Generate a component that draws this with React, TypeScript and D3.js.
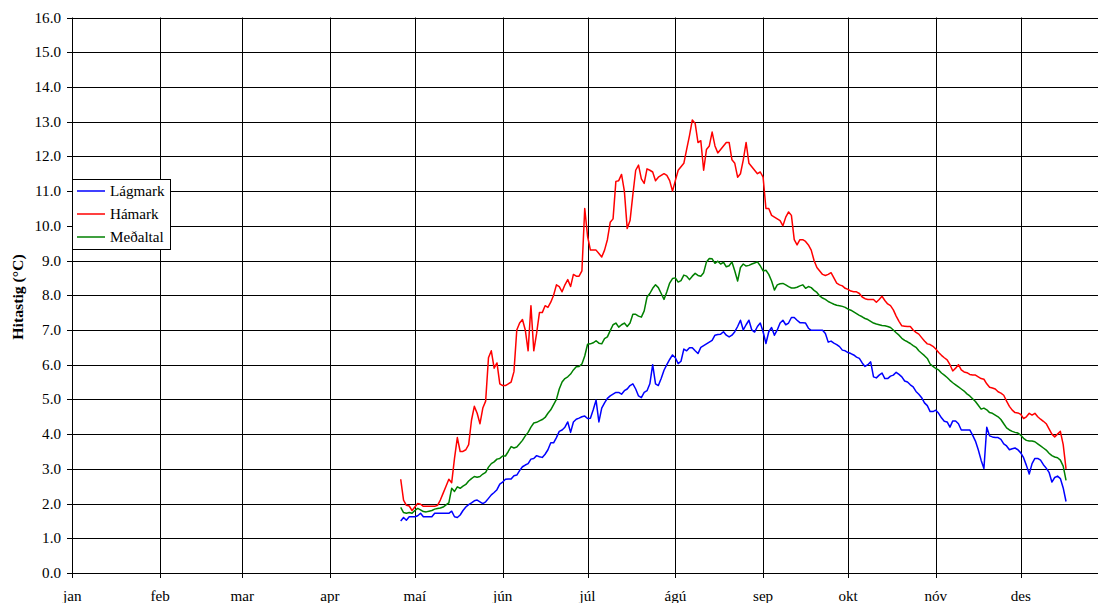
import React from 'react';
import * as d3 from 'd3';

// day-of-year (0 = 1 Jan) of the first value in each series
const firstDay = 116;

const lagmark = [
  1.5, 1.6, 1.52, 1.62, 1.62, 1.62, 1.65, 1.72, 1.62, 1.62,
  1.62, 1.62, 1.72, 1.72, 1.72, 1.72, 1.72, 1.72, 1.78, 1.62,
  1.6, 1.67, 1.8, 1.9, 1.97, 2.02, 2.08, 2.1, 2.05, 2.0,
  2.05, 2.15, 2.25, 2.32, 2.4, 2.56, 2.62, 2.7, 2.71, 2.71,
  2.8, 2.82, 2.95, 3.06, 3.11, 3.15, 3.28, 3.3, 3.38, 3.35,
  3.33, 3.42, 3.55, 3.75, 3.75, 3.9, 4.08, 4.12, 4.2, 4.35,
  4.05, 4.35, 4.43, 4.46, 4.5, 4.52, 4.45, 4.46, 4.7, 4.98,
  4.35, 4.75, 4.9, 5.03, 5.1, 5.15, 5.2, 5.2, 5.15, 5.25,
  5.3, 5.4, 5.45, 5.3, 5.1, 5.05, 5.2, 5.25, 5.45, 6.0,
  5.45, 5.4, 5.6, 5.84, 6.0, 6.15, 6.28, 6.2, 6.03, 6.1,
  6.45, 6.4, 6.49, 6.49, 6.4, 6.32, 6.5, 6.55, 6.6, 6.65,
  6.7, 6.85, 6.87, 6.88, 6.95, 6.85, 6.8, 6.85, 6.95, 7.1,
  7.28, 7.0, 7.15, 7.28, 7.0, 6.94, 7.1, 7.2, 6.95, 6.61,
  6.95, 7.07, 6.85, 7.0, 7.2, 7.28, 7.15, 7.2, 7.36, 7.36,
  7.28, 7.21, 7.21, 7.2, 7.05, 6.99, 6.99, 6.99, 6.99, 6.99,
  6.9, 6.65, 6.68, 6.62, 6.58, 6.52, 6.42, 6.4, 6.35, 6.32,
  6.28, 6.22, 6.18, 6.05, 5.95, 6.0, 6.08, 5.65, 5.62, 5.7,
  5.76, 5.6, 5.6, 5.67, 5.7, 5.78, 5.72, 5.65, 5.53, 5.5,
  5.42, 5.36, 5.23, 5.15, 5.05, 4.9, 4.82, 4.65, 4.65, 4.69,
  4.6, 4.47, 4.37, 4.35, 4.2, 4.38, 4.38, 4.3, 4.12, 4.12,
  4.12, 4.12, 3.97, 3.8, 3.55, 3.25, 3.01, 4.2, 3.95, 3.92,
  3.9, 3.9, 3.85, 3.72, 3.66, 3.55, 3.58, 3.6, 3.55, 3.46,
  3.32, 3.1, 2.85, 3.15, 3.3, 3.3, 3.25, 3.12, 3.02, 2.9,
  2.62, 2.75, 2.79, 2.72, 2.45, 2.06,
];

const hamark = [
  2.7, 2.1, 1.95, 1.93, 1.8, 1.9, 2.0, 1.98, 1.92, 1.92,
  1.92, 1.92, 1.92, 1.95, 2.1, 2.3, 2.5, 2.7, 2.6, 3.3,
  3.9, 3.5, 3.5, 3.55, 3.7, 4.4, 4.8, 4.6, 4.3, 4.75,
  4.95, 6.2, 6.4, 5.9, 6.05, 5.45, 5.4, 5.4, 5.45, 5.5,
  5.8, 7.0, 7.2, 7.3, 7.0, 6.4, 7.7, 6.4, 6.9, 7.5,
  7.5, 7.7, 7.65, 7.8, 8.0, 8.3, 8.25, 8.1, 8.3, 8.45,
  8.25, 8.6, 8.55, 8.55, 8.7, 10.5, 9.7, 9.3, 9.3, 9.3,
  9.2, 9.1, 9.3, 9.6, 10.1, 10.2, 11.28, 11.3, 11.48, 11.0,
  9.92, 10.15, 10.9, 11.6, 11.75, 11.35, 11.22, 11.64, 11.6, 11.55,
  11.3, 11.4, 11.45, 11.5, 11.45, 11.3, 11.0, 11.3, 11.6, 11.7,
  11.8, 12.2, 12.6, 13.05, 12.95, 12.4, 12.45, 11.6, 12.2, 12.3,
  12.7, 12.3, 12.1, 12.2, 12.3, 12.4, 12.4, 11.9, 11.8, 11.4,
  11.5, 11.9, 12.4, 11.8, 11.7, 11.6, 11.5, 11.55, 11.4, 10.5,
  10.5, 10.3, 10.25, 10.2, 10.15, 10.0, 10.25, 10.4, 10.3, 9.6,
  9.45, 9.6, 9.6, 9.55, 9.45, 9.3, 9.0, 8.8, 8.7, 8.6,
  8.57, 8.6, 8.65, 8.5, 8.35, 8.3, 8.27, 8.2, 8.17, 8.12,
  8.1, 8.1, 8.05, 7.95, 7.9, 7.88, 7.88, 7.88, 7.8, 7.88,
  7.97, 7.85, 7.75, 7.7, 7.58, 7.4, 7.25, 7.12, 7.11, 7.1,
  7.1, 7.0, 6.93, 6.88, 6.78, 6.68, 6.6, 6.58, 6.53, 6.45,
  6.35, 6.27, 6.2, 6.14, 6.0, 5.82, 5.9, 6.0, 5.85, 5.79,
  5.77, 5.72, 5.7, 5.7, 5.65, 5.6, 5.58, 5.45, 5.35, 5.33,
  5.3, 5.22, 5.18, 5.12, 4.95, 4.8, 4.69, 4.62, 4.61, 4.57,
  4.45, 4.5, 4.6, 4.55, 4.6, 4.5, 4.43, 4.37, 4.3, 4.15,
  4.0, 3.92, 4.0, 4.08, 3.7, 3.0,
];

const medaltal = [
  1.89, 1.74, 1.72, 1.74, 1.72, 1.8, 1.86, 1.82, 1.77, 1.76,
  1.78, 1.8, 1.84, 1.86, 1.87, 1.9, 1.96, 2.02, 2.44, 2.35,
  2.48, 2.44, 2.5, 2.55, 2.65, 2.72, 2.78, 2.76, 2.78, 2.85,
  2.9, 3.05, 3.15, 3.2, 3.28, 3.3, 3.37, 3.37, 3.5, 3.64,
  3.6, 3.63, 3.72, 3.82, 3.95, 4.05, 4.2, 4.32, 4.34, 4.38,
  4.42, 4.48, 4.6, 4.7, 4.85, 5.0, 5.3, 5.5, 5.6, 5.65,
  5.73, 5.85, 5.94, 5.95, 6.02, 6.25, 6.59, 6.6, 6.63, 6.69,
  6.62, 6.6, 6.75, 6.8, 6.98, 7.15, 7.2, 7.08, 7.15, 7.2,
  7.1, 7.2, 7.45, 7.45, 7.4, 7.37, 7.55, 7.95, 8.05, 8.2,
  8.3, 8.22, 8.05, 7.88, 8.1, 8.35, 8.48, 8.5, 8.38, 8.42,
  8.58, 8.55, 8.45, 8.55, 8.63, 8.57, 8.55, 8.65, 8.96, 9.06,
  9.05, 8.92, 8.98, 8.9, 8.95, 8.82, 8.85, 8.96, 8.7, 8.41,
  8.8, 8.9, 8.84, 8.86, 8.9, 8.93, 8.96, 8.85, 8.7, 8.72,
  8.6, 8.41, 8.15, 8.3, 8.33, 8.34, 8.3, 8.25, 8.21, 8.21,
  8.23, 8.27, 8.3, 8.2, 8.25, 8.22, 8.14, 8.08, 7.98, 7.92,
  7.88, 7.82, 7.78, 7.74, 7.71, 7.7, 7.68, 7.65, 7.6, 7.57,
  7.52, 7.47, 7.42, 7.38, 7.33, 7.3, 7.25, 7.2, 7.17, 7.15,
  7.13, 7.12, 7.1, 7.07, 7.0, 6.92, 6.85, 6.76, 6.7, 6.66,
  6.61, 6.55, 6.5, 6.4, 6.33, 6.26, 6.18, 6.02, 5.95, 5.89,
  5.85, 5.76, 5.7, 5.63, 5.55, 5.48, 5.42, 5.36, 5.3, 5.24,
  5.16, 5.1, 5.02, 4.94, 4.83, 4.72, 4.75, 4.7, 4.62, 4.6,
  4.55, 4.5, 4.42, 4.3, 4.18, 4.12, 4.08, 4.05, 4.03, 3.97,
  3.88, 3.82, 3.8, 3.8, 3.78, 3.72, 3.66, 3.6, 3.54, 3.45,
  3.38, 3.34, 3.32, 3.25, 3.08, 2.67,
];

const months = ['jan', 'feb', 'mar', 'apr', 'maí', 'jún', 'júl', 'ágú', 'sep', 'okt', 'nóv', 'des'];
const monthStart = [0, 31, 60, 91, 121, 152, 182, 213, 244, 274, 305, 335];
const yTicks = d3.range(0, 17);

const series = [
  { name: 'Lágmark', values: lagmark, color: '#0000ff' },
  { name: 'Hámark', values: hamark, color: '#ff0000' },
  { name: 'Meðaltal', values: medaltal, color: '#008000' },
];

const W = 1098;
const H = 603;
const font = '"Liberation Serif", "Times New Roman", serif';

export default function App() {
  const x = d3.scaleLinear().domain([0, 366]).range([72.3, 1108.5]);
  const y = d3.scaleLinear().domain([0, 16]).range([573, 17.5]);

  const line = d3
    .line<number>()
    .x((_, i) => x(firstDay + i))
    .y((d) => y(d));

  const legendX = 72;
  const legendY = 179;

  return (
    <svg
      width={W}
      height={H}
      style={{ position: 'absolute', left: 0, top: 0, background: '#fff' }}
      fontFamily={font}
    >
      <rect width={W} height={H} fill="#fff" />

      {/* horizontal grid */}
      {yTicks.map((t) => (
        <g key={'h' + t}>
          <line x1={72} x2={W} y1={Math.round(y(t)) + 0.5} y2={Math.round(y(t)) + 0.5} stroke="#000" strokeWidth={1} />
          <line x1={67} x2={72} y1={Math.round(y(t)) + 0.5} y2={Math.round(y(t)) + 0.5} stroke="#000" strokeWidth={1} />
          <text
            transform={`translate(61,${y(t) + 5}) scale(1.08,1)`}
            textAnchor="end"
            fontSize={14}
            fill="#000"
          >
            {t.toFixed(1)}
          </text>
        </g>
      ))}

      {/* month grid */}
      {monthStart.map((d, i) => (
        <g key={'m' + i}>
          <line
            x1={Math.round(x(d)) + 0.5}
            x2={Math.round(x(d)) + 0.5}
            y1={y(16)}
            y2={578}
            stroke="#000"
            strokeWidth={1}
          />
          <text
            transform={`translate(${x(d)},601) scale(1.08,1)`}
            textAnchor="middle"
            fontSize={14}
            fill="#000"
          >
            {months[i]}
          </text>
        </g>
      ))}

      {/* series */}
      {series.map((s) => (
        <path key={s.name} d={line(s.values) || ''} fill="none" stroke={s.color} strokeWidth={1.5} strokeLinejoin="round" />
      ))}

      {/* legend */}
      <rect x={legendX + 0.5} y={legendY + 0.5} width={98} height={70} fill="#fff" stroke="#000" strokeWidth={1} />
      {series.map((s, i) => (
        <g key={'l' + s.name}>
          <line x1={77} x2={105} y1={191 + i * 23} y2={191 + i * 23} stroke={s.color} strokeWidth={1.5} />
          <text transform={`translate(110,${196 + i * 23}) scale(1.08,1)`} fontSize={14} fill="#000">
            {s.name}
          </text>
        </g>
      ))}

      {/* y-axis title */}
      <text
        transform="translate(23,297) rotate(-90) scale(1.05,1)"
        textAnchor="middle"
        fontSize={15}
        fontWeight="bold"
        fill="#000"
      >
        Hitastig (°C)
      </text>
    </svg>
  );
}
